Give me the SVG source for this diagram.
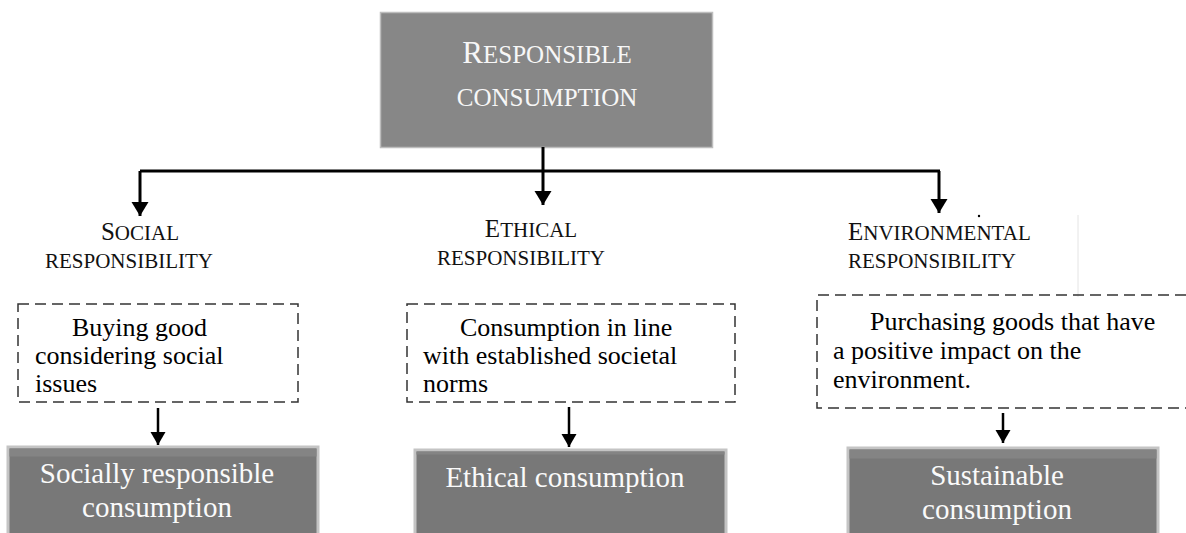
<svg xmlns="http://www.w3.org/2000/svg" width="1186" height="533" viewBox="0 0 1186 533">
<style>
text{font-family:'Liberation Serif','Times New Roman',serif;}
.lbl{font-size:21px;fill:#111;}
.big{font-size:25px;}
.dtxt{font-size:26px;fill:#000;}
.btxt{font-size:29px;fill:#fafafa;text-anchor:middle;}
.dash{fill:none;stroke:#333;stroke-width:1.5;stroke-dasharray:11 6;}
.conn{fill:none;stroke:#000;stroke-width:3;}
.conn2{fill:none;stroke:#000;stroke-width:2.5;}
</style>
<defs>
<marker id="ah" markerUnits="userSpaceOnUse" markerWidth="16" markerHeight="18" refX="14" refY="8.5" orient="auto" viewBox="0 0 16 18">
<path d="M0,0 L14,8.5 L0,17 Z" fill="#000"/>
</marker>
<marker id="ah2" markerUnits="userSpaceOnUse" markerWidth="15" markerHeight="16" refX="13" refY="7.5" orient="auto" viewBox="0 0 15 16">
<path d="M0,0 L13,7.5 L0,15 Z" fill="#000"/>
</marker>
</defs>
<rect width="1186" height="533" fill="#fff"/>

<g id="top">
<rect x="380.5" y="12.5" width="332" height="135" fill="#878787" stroke="#bdbdbd" stroke-width="1.5"/>
<text x="547" y="63" text-anchor="middle" fill="#f7f7f7" font-size="25"><tspan font-size="31">R</tspan>ESPONSIBLE</text>
<text x="547" y="106" text-anchor="middle" fill="#f7f7f7" font-size="25">CONSUMPTION</text>
</g>

<g id="connectors">
<path class="conn" d="M140,171 L940,171"/>
<path class="conn" d="M543,147 L543,205" marker-end="url(#ah)"/>
<path class="conn" d="M140,171 L140,216" marker-end="url(#ah)"/>
<path class="conn" d="M939,171 L939,213" marker-end="url(#ah)"/>
<path class="conn2" d="M158,408 L158,445" marker-end="url(#ah2)"/>
<path class="conn2" d="M569,407 L569,447" marker-end="url(#ah2)"/>
<path class="conn2" d="M1003,413 L1003,443" marker-end="url(#ah2)"/>
</g>

<g id="social-label">
<text class="lbl" x="140" y="240" text-anchor="middle"><tspan class="big">S</tspan>OCIAL</text>
<text class="lbl" x="129" y="268" text-anchor="middle">RESPONSIBILITY</text>
</g>
<g id="ethical-label">
<text class="lbl" x="531" y="237" text-anchor="middle"><tspan class="big">E</tspan>THICAL</text>
<text class="lbl" x="521" y="265" text-anchor="middle">RESPONSIBILITY</text>
</g>
<g id="env-label">
<text class="lbl" x="848" y="240"><tspan class="big">E</tspan>NVIRONMENTAL</text>
<text class="lbl" x="848" y="268">RESPONSIBILITY</text>
<circle cx="979" cy="216" r="1.2" fill="#000"/>
<line x1="1078" y1="215" x2="1078" y2="297" stroke="#e4e4e4" stroke-width="1"/>
</g>

<g id="social-desc">
<rect class="dash" x="18" y="304" width="280" height="98"/>
<text class="dtxt" x="72" y="336">Buying good</text>
<text class="dtxt" x="35" y="364">considering social</text>
<text class="dtxt" x="35" y="392">issues</text>
</g>
<g id="ethical-desc">
<rect class="dash" x="407" y="304" width="328" height="98"/>
<text class="dtxt" x="460" y="336">Consumption in line</text>
<text class="dtxt" x="423" y="364">with established societal</text>
<text class="dtxt" x="423" y="392">norms</text>
</g>
<g id="env-desc">
<path class="dash" d="M1186,295 L817,295 L817,408 L1186,408"/>
<text class="dtxt" x="870" y="330">Purchasing goods that have</text>
<text class="dtxt" x="833" y="359">a positive impact on the</text>
<text class="dtxt" x="833" y="388">environment.</text>
</g>

<g id="social-result">
<rect x="8" y="447" width="310" height="90" fill="#787878" stroke="#c4c4c4" stroke-width="3"/>
<rect x="9.5" y="448.5" width="307" height="8" fill="#848484"/>
<text class="btxt" x="157" y="483">Socially responsible</text>
<text class="btxt" x="157" y="517">consumption</text>
</g>
<g id="ethical-result">
<rect x="415" y="450" width="311" height="90" fill="#787878" stroke="#c4c4c4" stroke-width="3"/>
<rect x="416.5" y="451.5" width="308" height="3" fill="#848484"/>
<text class="btxt" x="565" y="487">Ethical consumption</text>
</g>
<g id="sustainable-result">
<rect x="848" y="448" width="310" height="90" fill="#787878" stroke="#c4c4c4" stroke-width="3"/>
<rect x="849.5" y="449.5" width="307" height="9" fill="#848484"/>
<text class="btxt" x="997" y="485">Sustainable</text>
<text class="btxt" x="997" y="519">consumption</text>
</g>
</svg>
